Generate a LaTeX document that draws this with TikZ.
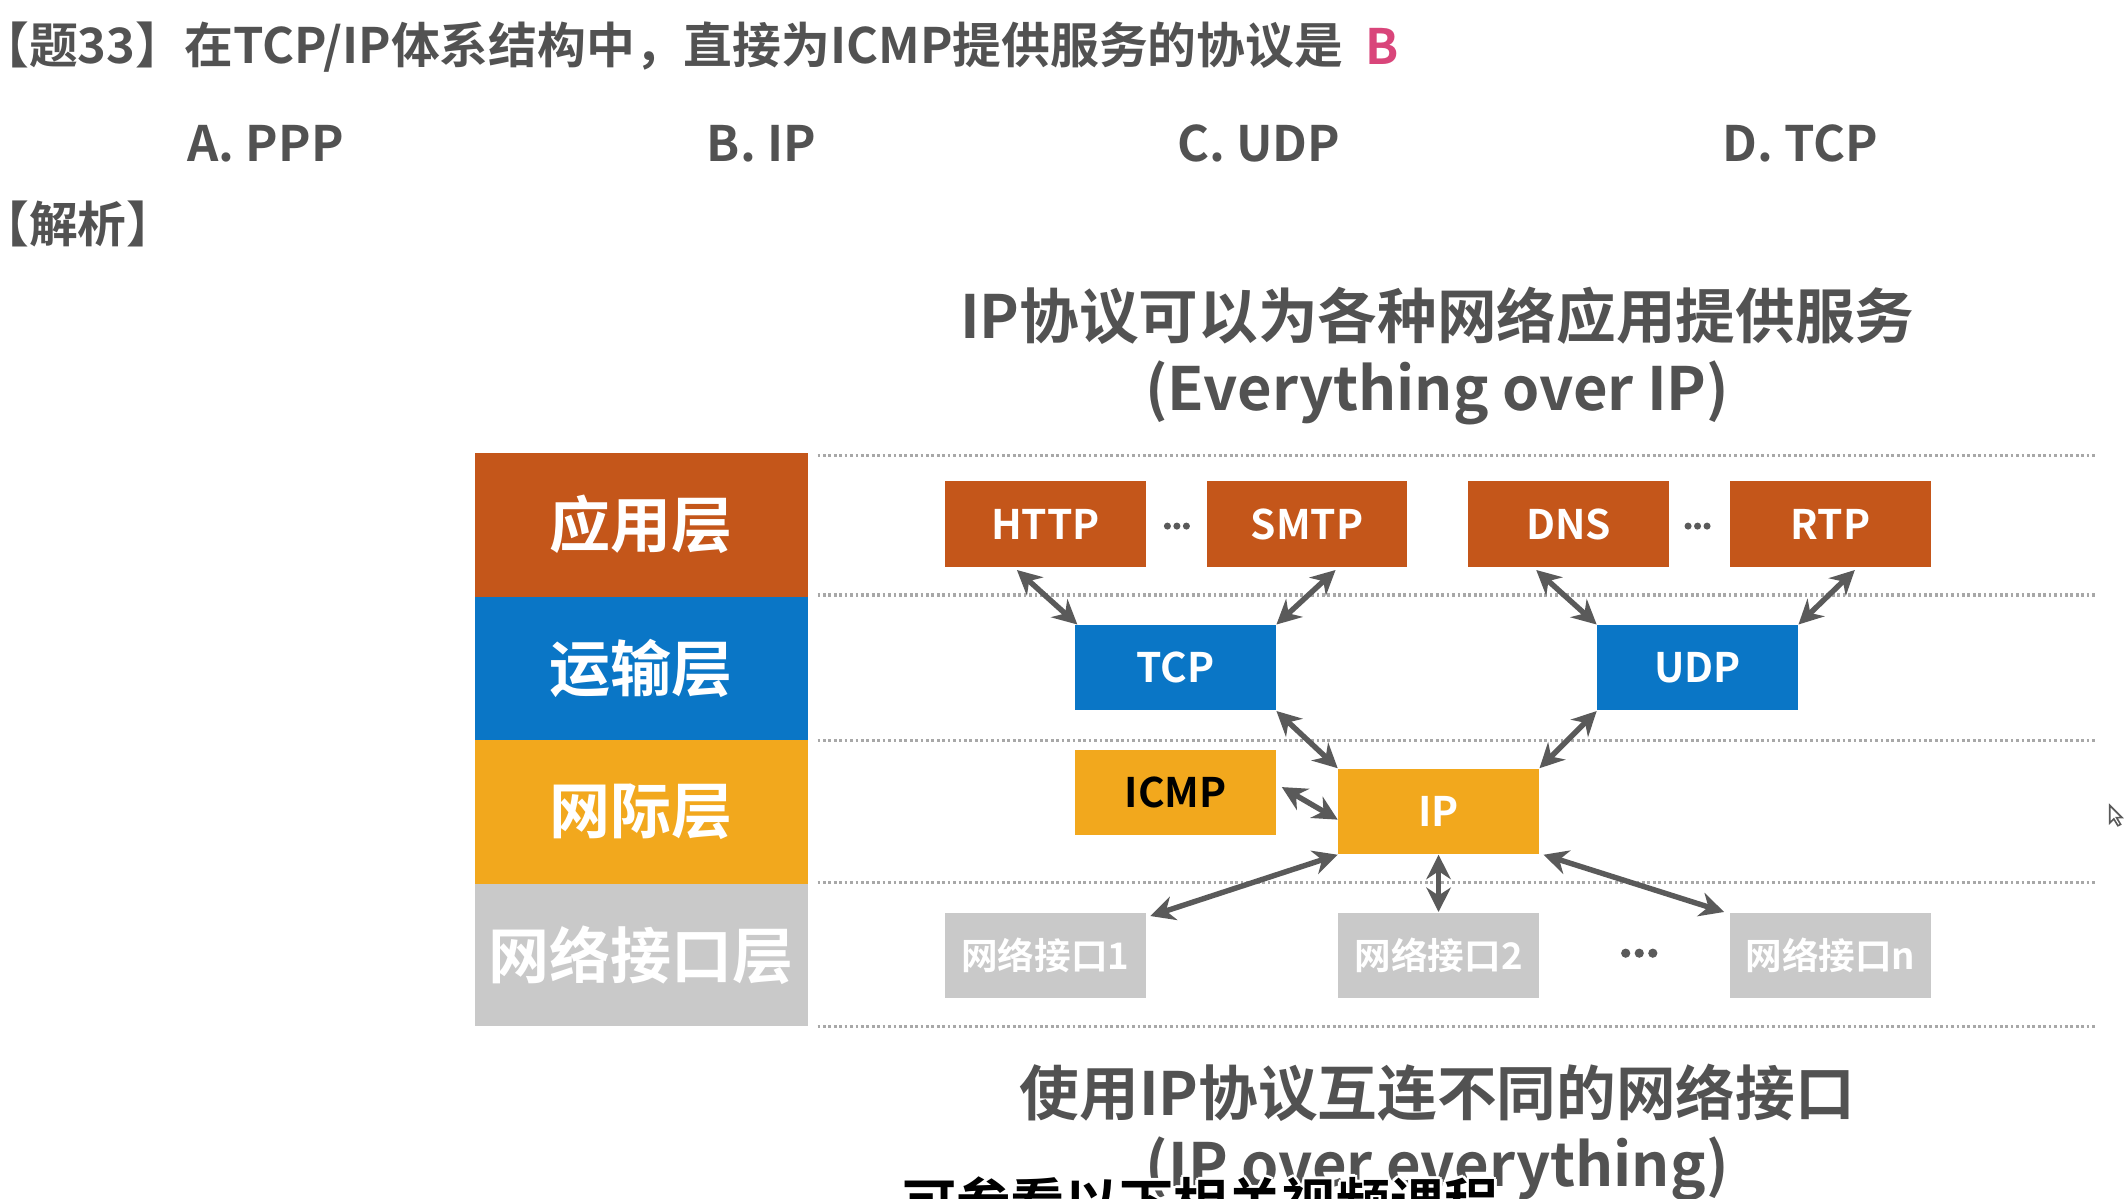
\documentclass[tikz,border=0pt]{standalone}
\usepackage{fontspec}
\setmainfont{Noto Sans CJK SC}[BoldFont={Noto Sans CJK SC Bold}]
\usetikzlibrary{arrows.meta,calc}

\definecolor{appc}{HTML}{C4561A}
\definecolor{trnc}{HTML}{0A76C6}
\definecolor{netc}{HTML}{F2A81D}
\definecolor{ifc}{HTML}{C9C9C9}
\definecolor{txtc}{HTML}{525252}
\definecolor{arrc}{HTML}{5A5A5A}
\definecolor{dotc}{HTML}{A8A8A8}
\definecolor{ansc}{HTML}{D9457A}

\tikzset{
  layerbox/.style={minimum width=123pt, minimum height=53pt, inner sep=0pt,
    text=white, font=\fontsize{22.5pt}{24pt}\selectfont\bfseries},
  protobox/.style={minimum width=74pt, minimum height=31.5pt, inner sep=0pt,
    text=white, font=\fontsize{15pt}{17pt}\selectfont\bfseries},
  ifbox/.style={protobox, fill=ifc, font=\fontsize{13.5pt}{15pt}\selectfont\bfseries},
  link/.style={draw=arrc, line width=2pt,
    {Stealth[length=9pt,width=9pt]}-{Stealth[length=9pt,width=9pt]}},
  sepline/.style={draw=dotc, line width=1.3pt, dash pattern=on 1pt off 1pt},
  headtext/.style={text=txtc, inner sep=0pt, font=\fontsize{18pt}{20pt}\selectfont\bfseries},
  bigtext/.style={text=txtc, inner sep=0pt, font=\fontsize{22pt}{24pt}\selectfont\bfseries},
}

\begin{document}
\begin{tikzpicture}[x=0.5pt,y=-0.5pt]
\path[use as bounding box] (0,0) rectangle (1568,884);
\clip (0,0) rectangle (1568,884);
\fill[white] (0,0) rectangle (1568,884);

% question
\node[headtext, anchor=west] (q) at (-15,35) {【题33】在TCP/IP体系结构中，直接为ICMP提供服务的协议是};
\node[inner sep=0pt, text=ansc, font=\fontsize{18pt}{20pt}\selectfont\bfseries] (ans) at (1019,34) {B};
\node[headtext, anchor=west] (oa) at (138,106) {A. PPP};
\node[headtext, anchor=west] (ob) at (521,106) {B. IP};
\node[headtext, anchor=west] (oc) at (868,106) {C. UDP};
\node[headtext, anchor=west] (od) at (1270,106) {D. TCP};
\node[headtext, anchor=west] (jx) at (-15,165) {【解析】};

% upper caption
\node[bigtext] (cap1) at (1060,233) {IP协议可以为各种网络应用提供服务};
\node[bigtext] (cap2) at (1060,290) {(Everything over IP)};

% layer column
\node[layerbox, fill=appc] (lapp) at (473,387) {应用层};
\node[layerbox, fill=trnc] (ltrn) at (473,493) {运输层};
\node[layerbox, fill=netc] (lnet) at (473,599) {网际层};
\node[layerbox, fill=ifc, minimum height=52.5pt] (lif) at (473,704.5) {网络接口层};

% layer separators
\foreach \yy in {336,439,546,651,757}
  \draw[sepline] (603,\yy) -- (1545,\yy);

% application protocols
\node[protobox, fill=appc] (http) at (771,386.5) {HTTP};
\node[protobox, fill=appc] (smtp) at (964,386.5) {SMTP};
\node[protobox, fill=appc] (dns)  at (1157,386.5) {DNS};
\node[protobox, fill=appc] (rtp)  at (1350,386.5) {RTP};

% transport protocols
\node[protobox, fill=trnc] (tcp) at (867,492.5) {TCP};
\node[protobox, fill=trnc] (udp) at (1252,492.5) {UDP};

% internet layer
\node[protobox, fill=netc, text=black] (icmp) at (867,584.5) {ICMP};
\node[protobox, fill=netc] (ip) at (1061,598.5) {IP};

% network interfaces
\node[ifbox] (if1) at (771,704.5) {网络接口1};
\node[ifbox] (if2) at (1061,704.5) {网络接口2};
\node[ifbox] (ifn) at (1350,704.5) {网络接口n};

% ellipses between boxes
\foreach \cx/\cy/\r/\s in {868/388/2.6/7, 1252/388/2.6/7, 1209/703/3.4/10}{
  \fill[arrc] (\cx-\s,\cy) circle (\r);
  \fill[arrc] (\cx,\cy) circle (\r);
  \fill[arrc] (\cx+\s,\cy) circle (\r);
}

% links
\draw[link] ($(http.south)+(-21,2)$) -- ($(tcp.north west)+(2,0)$);
\draw[link] ($(smtp.south)+(21,2)$) -- ($(tcp.north east)+(0,0)$);
\draw[link] ($(dns.south)+(-24,2)$) -- ($(udp.north west)+(0,0)$);
\draw[link] ($(rtp.south)+(18,2)$) -- ($(udp.north east)+(0,0)$);
\draw[link] (tcp.south east) -- (ip.north west);
\draw[link] (udp.south west) -- (ip.north east);
\draw[link] ($(icmp.east)+(4,-4)$) -- ($(ip.west)+(0,6)$);
\draw[link] (ip.south west) -- ($(if1.north east)+(3,3)$);
\draw[link] (ip.south) -- (if2.north);
\draw[link] ($(ip.south east)+(3,0)$) -- ($(ifn.north west)+(-4,0)$);

% lower caption
\node[bigtext] (cap3) at (1060,806) {使用IP协议互连不同的网络接口};
\node[bigtext] (cap4) at (1060,862) {(IP over everything)};

% subtitle line
\foreach \dx/\dy in {-2/0,2/0,0/-2,0/2,-1.5/-1.5,1.5/1.5,-1.5/1.5,1.5/-1.5}
  \node[anchor=west, inner sep=0pt, text=white, font=\fontsize{20pt}{22pt}\selectfont\bfseries]
    at (665+\dx,887+\dy) {可参看以下相关视频课程};
\node[anchor=west, inner sep=0pt, text=black, font=\fontsize{20pt}{22pt}\selectfont\bfseries]
  (sub) at (665,887) {可参看以下相关视频课程};

% pointer
\draw[arrc, line width=0.6pt, fill=white] (1556,594) -- (1556,607) -- (1559,604) -- (1562,609) -- (1564,608) -- (1561,603) -- (1565,603) -- cycle;
\end{tikzpicture}
\end{document}
